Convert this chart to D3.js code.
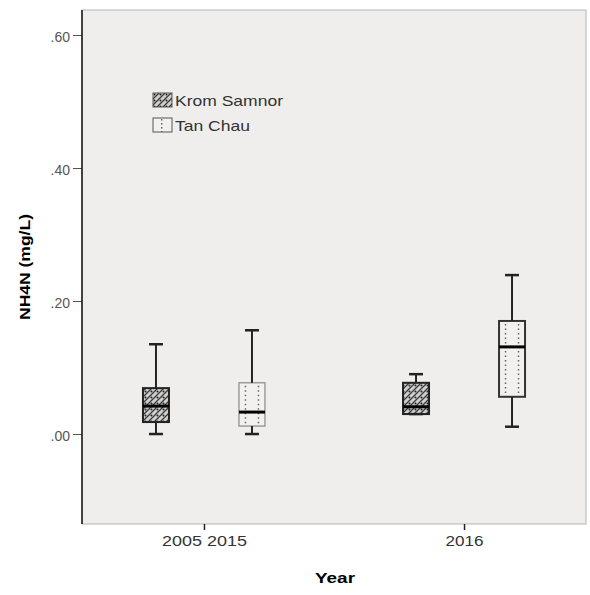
<!DOCTYPE html>
<html><head><meta charset="utf-8">
<script src="https://cdn.jsdelivr.net/npm/d3@7"></script>
<style>body{margin:0;background:#fff}svg{display:block}text{font-family:"Liberation Sans",Arial,sans-serif}</style>
</head><body><svg id="c" width="590" height="595"></svg>
<script>
const years = ["2005 2015", "2016"];
const series = ["Krom Samnor", "Tan Chau"];
// [whiskerLow, q1, median, q3, whiskerHigh]
const kromSamnor = [[0.000, 0.018, 0.042, 0.069, 0.135], [0.030, 0.030, 0.041, 0.077, 0.090]];
const tanChau = [[0.000, 0.012, 0.033, 0.077, 0.156], [0.011, 0.056, 0.131, 0.170, 0.239]];
const yTicks = [0, 0.2, 0.4, 0.6];

const svg = d3.select("#c");
const m = {l: 82, t: 10, r: 586, b: 524};
const x = d3.scalePoint().domain(years).range([m.l, m.r]).padding(0.469);
const xs = d3.scaleBand().domain(series).range([-96, 96]);
const y = d3.scaleLinear().domain([-0.1353, 0.6376]).range([m.b, m.t]);

const defs = svg.append("defs");
const p1 = defs.append("pattern").attr("id", "pk").attr("patternUnits", "userSpaceOnUse").attr("width", 6).attr("height", 6);
p1.append("rect").attr("width", 6).attr("height", 6).attr("fill", "#cfcfcf");
p1.append("path").attr("d", "M0,6 L6,0 M-1,1 L1,-1 M5,7 L7,5").attr("stroke", "#3a3a3a").attr("stroke-width", 1.3);
p1.append("circle").attr("cx", 1.5).attr("cy", 1.5).attr("r", 1).attr("fill", "#222");
const p2 = defs.append("pattern").attr("id", "pt").attr("patternUnits", "userSpaceOnUse").attr("width", 19).attr("height", 4).attr("x", 153).attr("y", 0);
p2.append("rect").attr("width", 19).attr("height", 4).attr("fill", "#f2f1ef");
p2.append("rect").attr("x", 7).attr("y", 1).attr("width", 1.4).attr("height", 1.6).attr("fill", "#666");

svg.append("rect").attr("x", m.l).attr("y", m.t).attr("width", m.r - m.l).attr("height", m.b - m.t)
  .attr("fill", "#efeeec").attr("stroke", "#b5b5b5").attr("stroke-width", 1);

// y axis
const ya = svg.append("g").attr("transform", `translate(${m.l},0)`)
  .call(d3.axisLeft(y).tickValues(yTicks).tickSize(9).tickPadding(3).tickFormat(d => d3.format(".2f")(d).replace(/^0/, "")));
ya.select(".domain").remove();
ya.selectAll("text").attr("font-size", 14).attr("fill", "#555").attr("dy", "0.45em");
ya.selectAll("line").attr("stroke", "#555");
svg.append("line").attr("x1", m.l).attr("x2", m.l).attr("y1", m.t).attr("y2", m.b).attr("stroke", "#111").attr("stroke-width", 1.5);

// x axis
const xa = svg.append("g").attr("transform", `translate(0,${m.b})`)
  .call(d3.axisBottom(x).tickSize(6).tickPadding(16));
xa.select(".domain").remove();
xa.selectAll("line").attr("stroke", "#222").attr("stroke-width", 1.5);
xa.selectAll("text").attr("font-size", 14).attr("fill", "#333").attr("dy", "0")
  .attr("textLength", d => d === years[0] ? 85 : 38).attr("lengthAdjust", "spacingAndGlyphs");

svg.append("text").attr("x", 335).attr("y", 583).attr("text-anchor", "middle").attr("font-weight", "bold").attr("font-size", 14)
  .attr("textLength", 40).attr("lengthAdjust", "spacingAndGlyphs").text("Year");
svg.append("text").attr("transform", `translate(30,${(m.t + m.b) / 2}) rotate(-90)`).attr("text-anchor", "middle")
  .attr("font-weight", "bold").attr("font-size", 14).attr("textLength", 106).attr("lengthAdjust", "spacingAndGlyphs").text("NH4N (mg/L)");

const data = [];
years.forEach((yr, i) => {
  data.push({yr, s: series[0], v: kromSamnor[i], fill: "url(#pk)", stroke: "#222", sw: 2, dots: false});
  data.push({yr, s: series[1], v: tanChau[i], fill: "#f2f1ef", stroke: i === 0 ? "#888" : "#333", sw: i === 0 ? 1.2 : 2, dots: true});
});
const bw = 26;
data.forEach(d => {
  const cx = x(d.yr) + xs(d.s) + xs.bandwidth() / 2;
  const [lo, q1, med, q3, hi] = d.v;
  const g = svg.append("g");
  g.append("rect").attr("x", cx - bw / 2).attr("y", y(q3)).attr("width", bw).attr("height", y(q1) - y(q3))
    .attr("fill", d.fill).attr("stroke", d.stroke).attr("stroke-width", d.sw);
  if (d.dots) {
    [-bw / 4, bw / 4].forEach(o => {
      g.append("line").attr("x1", cx + o).attr("x2", cx + o).attr("y1", y(q3) + 3).attr("y2", y(q1) - 2)
        .attr("stroke", "#666").attr("stroke-width", 1.5).attr("stroke-dasharray", "1.5,3");
    });
  }
  g.append("line").attr("x1", cx).attr("x2", cx).attr("y1", y(hi)).attr("y2", y(q3)).attr("stroke", "#222").attr("stroke-width", 2);
  g.append("line").attr("x1", cx).attr("x2", cx).attr("y1", y(q1)).attr("y2", y(lo)).attr("stroke", "#222").attr("stroke-width", 2);
  g.append("line").attr("x1", cx - 7).attr("x2", cx + 7).attr("y1", y(hi)).attr("y2", y(hi)).attr("stroke", "#222").attr("stroke-width", 2.5);
  g.append("line").attr("x1", cx - 7).attr("x2", cx + 7).attr("y1", y(lo)).attr("y2", y(lo)).attr("stroke", "#222").attr("stroke-width", 2.5);
  g.append("line").attr("x1", cx - bw / 2).attr("x2", cx + bw / 2).attr("y1", y(med)).attr("y2", y(med)).attr("stroke", "#000").attr("stroke-width", 3);
});

// legend
const lg = svg.append("g").attr("transform", "translate(153,93)");
series.forEach((s, i) => {
  const r = lg.append("g").attr("transform", `translate(0,${i * 25})`);
  r.append("rect").attr("width", 19).attr("height", 14).attr("fill", i === 0 ? "url(#pk)" : "url(#pt)")
    .attr("stroke", "#555").attr("stroke-width", 1);
  r.append("text").attr("x", 22).attr("y", 13).attr("font-size", 15).attr("fill", "#333")
    .attr("textLength", i === 0 ? 108 : 75).attr("lengthAdjust", "spacingAndGlyphs").text(s);
});
</script></body></html>
